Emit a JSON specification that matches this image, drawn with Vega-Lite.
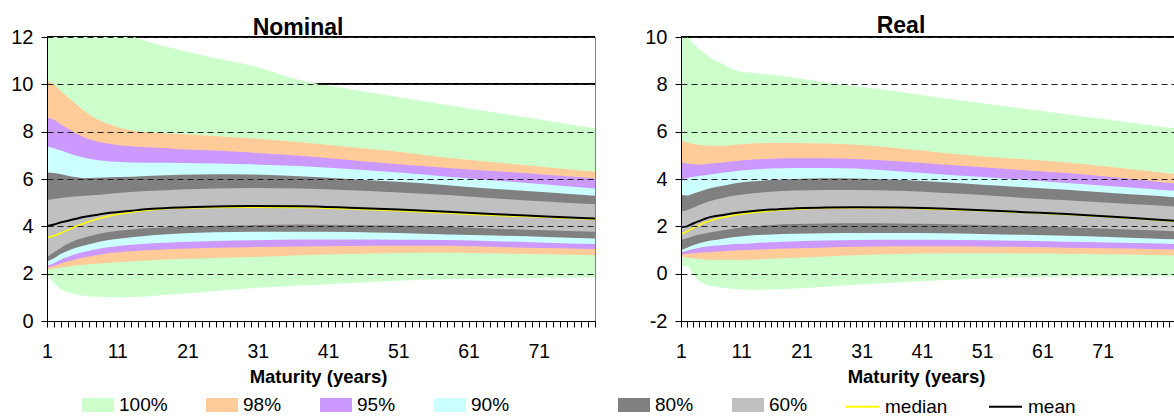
{
  "$schema": "https://vega.github.io/schema/vega-lite/v6.json",
  "padding": {"left": 0, "top": 14, "right": 0, "bottom": 0},
  "spacing": 38,
  "config": {
    "font": "Liberation Sans",
    "view": {"stroke": "#808080", "strokeWidth": 1},
    "axis": {"domainColor": "#000000", "tickColor": "#000000", "labelColor": "#000000", "titleColor": "#000000"}
  },
  "datasets": {
    "nom": [
      {"x":1,"lo100":2.0,"hi100":14.5,"lo98":2.19,"hi98":10.14,"lo95":2.25,"hi95":8.6,"lo90":2.33,"hi90":7.37,"lo80":2.5,"hi80":6.27,"lo60":2.71,"hi60":5.11,"median":3.53,"mean":4.01},
      {"x":2,"lo100":1.6,"hi100":14.2,"lo98":2.22,"hi98":10.0,"lo95":2.33,"hi95":8.5,"lo90":2.45,"hi90":7.3,"lo80":2.65,"hi80":6.25,"lo60":2.9,"hi60":5.15,"median":3.6,"mean":4.08},
      {"x":3,"lo100":1.35,"hi100":13.9,"lo98":2.26,"hi98":9.7,"lo95":2.43,"hi95":8.3,"lo90":2.6,"hi90":7.2,"lo80":2.84,"hi80":6.2,"lo60":3.1,"hi60":5.2,"median":3.72,"mean":4.17},
      {"x":4,"lo100":1.22,"hi100":13.6,"lo98":2.3,"hi98":9.45,"lo95":2.52,"hi95":8.12,"lo90":2.72,"hi90":7.1,"lo80":2.97,"hi80":6.14,"lo60":3.26,"hi60":5.23,"median":3.85,"mean":4.24},
      {"x":5,"lo100":1.14,"hi100":13.3,"lo98":2.34,"hi98":9.2,"lo95":2.6,"hi95":7.95,"lo90":2.82,"hi90":7.0,"lo80":3.08,"hi80":6.08,"lo60":3.4,"hi60":5.26,"median":3.98,"mean":4.31},
      {"x":6,"lo100":1.08,"hi100":13.1,"lo98":2.37,"hi98":8.95,"lo95":2.67,"hi95":7.8,"lo90":2.9,"hi90":6.92,"lo80":3.17,"hi80":6.04,"lo60":3.5,"hi60":5.28,"median":4.1,"mean":4.38},
      {"x":8,"lo100":1.03,"hi100":12.8,"lo98":2.42,"hi98":8.55,"lo95":2.78,"hi95":7.6,"lo90":3.03,"hi90":6.8,"lo80":3.32,"hi80":6.05,"lo60":3.66,"hi60":5.32,"median":4.3,"mean":4.48},
      {"x":10,"lo100":1.0,"hi100":12.5,"lo98":2.46,"hi98":8.3,"lo95":2.87,"hi95":7.48,"lo90":3.13,"hi90":6.74,"lo80":3.43,"hi80":6.07,"lo60":3.77,"hi60":5.38,"median":4.45,"mean":4.57},
      {"x":13,"lo100":1.01,"hi100":12.05,"lo98":2.52,"hi98":8.05,"lo95":2.95,"hi95":7.38,"lo90":3.22,"hi90":6.7,"lo80":3.54,"hi80":6.1,"lo60":3.87,"hi60":5.45,"median":4.6,"mean":4.66},
      {"x":16,"lo100":1.06,"hi100":11.75,"lo98":2.57,"hi98":7.97,"lo95":3.0,"hi95":7.33,"lo90":3.28,"hi90":6.69,"lo80":3.62,"hi80":6.14,"lo60":3.93,"hi60":5.5,"median":4.7,"mean":4.74},
      {"x":20,"lo100":1.15,"hi100":11.45,"lo98":2.62,"hi98":7.9,"lo95":3.05,"hi95":7.26,"lo90":3.34,"hi90":6.68,"lo80":3.7,"hi80":6.18,"lo60":3.98,"hi60":5.56,"median":4.77,"mean":4.8},
      {"x":25,"lo100":1.27,"hi100":11.1,"lo98":2.66,"hi98":7.82,"lo95":3.09,"hi95":7.2,"lo90":3.38,"hi90":6.66,"lo80":3.75,"hi80":6.2,"lo60":4.02,"hi60":5.6,"median":4.8,"mean":4.84},
      {"x":30,"lo100":1.38,"hi100":10.8,"lo98":2.7,"hi98":7.72,"lo95":3.12,"hi95":7.12,"lo90":3.41,"hi90":6.62,"lo80":3.77,"hi80":6.19,"lo60":4.05,"hi60":5.62,"median":4.81,"mean":4.86},
      {"x":37,"lo100":1.5,"hi100":10.18,"lo98":2.78,"hi98":7.55,"lo95":3.15,"hi95":6.98,"lo90":3.44,"hi90":6.55,"lo80":3.77,"hi80":6.12,"lo60":4.08,"hi60":5.6,"median":4.8,"mean":4.85},
      {"x":44,"lo100":1.6,"hi100":9.8,"lo98":2.83,"hi98":7.35,"lo95":3.17,"hi95":6.8,"lo90":3.44,"hi90":6.42,"lo80":3.76,"hi80":6.0,"lo60":4.06,"hi60":5.52,"median":4.74,"mean":4.79},
      {"x":51,"lo100":1.7,"hi100":9.45,"lo98":2.87,"hi98":7.15,"lo95":3.18,"hi95":6.62,"lo90":3.43,"hi90":6.27,"lo80":3.72,"hi80":5.88,"lo60":4.03,"hi60":5.43,"median":4.66,"mean":4.71},
      {"x":58,"lo100":1.76,"hi100":9.13,"lo98":2.88,"hi98":6.9,"lo95":3.18,"hi95":6.47,"lo90":3.42,"hi90":6.1,"lo80":3.66,"hi80":5.74,"lo60":3.98,"hi60":5.32,"median":4.56,"mean":4.62},
      {"x":65,"lo100":1.8,"hi100":8.8,"lo98":2.85,"hi98":6.7,"lo95":3.13,"hi95":6.33,"lo90":3.37,"hi90":5.93,"lo80":3.61,"hi80":5.58,"lo60":3.9,"hi60":5.18,"median":4.46,"mean":4.51},
      {"x":72,"lo100":1.83,"hi100":8.47,"lo98":2.82,"hi98":6.5,"lo95":3.08,"hi95":6.18,"lo90":3.31,"hi90":5.77,"lo80":3.55,"hi80":5.44,"lo60":3.83,"hi60":5.05,"median":4.38,"mean":4.42},
      {"x":79,"lo100":1.85,"hi100":8.14,"lo98":2.78,"hi98":6.31,"lo95":3.04,"hi95":6.03,"lo90":3.25,"hi90":5.6,"lo80":3.49,"hi80":5.29,"lo60":3.77,"hi60":4.93,"median":4.3,"mean":4.33}
    ],
    "real": [
      {"x":1,"lo100":0.25,"hi100":10.07,"lo98":0.72,"hi98":5.65,"lo95":0.82,"hi95":4.72,"lo90":0.9,"hi90":3.99,"lo80":0.98,"hi80":3.33,"lo60":1.43,"hi60":2.63,"median":1.68,"mean":1.96},
      {"x":2,"lo100":0.35,"hi100":10.0,"lo98":0.68,"hi98":5.55,"lo95":0.84,"hi95":4.65,"lo90":0.97,"hi90":4.03,"lo80":1.1,"hi80":3.3,"lo60":1.5,"hi60":2.68,"median":1.78,"mean":2.0},
      {"x":3,"lo100":-0.05,"hi100":9.75,"lo98":0.64,"hi98":5.48,"lo95":0.86,"hi95":4.62,"lo90":1.04,"hi90":4.08,"lo80":1.2,"hi80":3.38,"lo60":1.58,"hi60":2.78,"median":1.93,"mean":2.12},
      {"x":4,"lo100":-0.3,"hi100":9.5,"lo98":0.62,"hi98":5.45,"lo95":0.88,"hi95":4.6,"lo90":1.1,"hi90":4.13,"lo80":1.28,"hi80":3.46,"lo60":1.65,"hi60":2.9,"median":2.05,"mean":2.22},
      {"x":5,"lo100":-0.45,"hi100":9.3,"lo98":0.6,"hi98":5.42,"lo95":0.9,"hi95":4.62,"lo90":1.14,"hi90":4.16,"lo80":1.35,"hi80":3.55,"lo60":1.7,"hi60":3.0,"median":2.16,"mean":2.32},
      {"x":6,"lo100":-0.52,"hi100":9.1,"lo98":0.59,"hi98":5.4,"lo95":0.92,"hi95":4.65,"lo90":1.17,"hi90":4.2,"lo80":1.4,"hi80":3.62,"lo60":1.75,"hi60":3.08,"median":2.25,"mean":2.4},
      {"x":8,"lo100":-0.6,"hi100":8.85,"lo98":0.59,"hi98":5.4,"lo95":0.95,"hi95":4.7,"lo90":1.21,"hi90":4.26,"lo80":1.48,"hi80":3.72,"lo60":1.83,"hi60":3.2,"median":2.38,"mean":2.48},
      {"x":10,"lo100":-0.65,"hi100":8.6,"lo98":0.59,"hi98":5.45,"lo95":0.98,"hi95":4.76,"lo90":1.25,"hi90":4.33,"lo80":1.55,"hi80":3.82,"lo60":1.92,"hi60":3.3,"median":2.48,"mean":2.56},
      {"x":13,"lo100":-0.68,"hi100":8.48,"lo98":0.6,"hi98":5.5,"lo95":1.01,"hi95":4.82,"lo90":1.29,"hi90":4.4,"lo80":1.62,"hi80":3.9,"lo60":2.0,"hi60":3.4,"median":2.58,"mean":2.65},
      {"x":16,"lo100":-0.67,"hi100":8.4,"lo98":0.63,"hi98":5.52,"lo95":1.04,"hi95":4.86,"lo90":1.33,"hi90":4.44,"lo80":1.66,"hi80":3.96,"lo60":2.06,"hi60":3.46,"median":2.66,"mean":2.71},
      {"x":20,"lo100":-0.63,"hi100":8.28,"lo98":0.67,"hi98":5.52,"lo95":1.07,"hi95":4.88,"lo90":1.37,"hi90":4.47,"lo80":1.69,"hi80":4.0,"lo60":2.1,"hi60":3.51,"median":2.72,"mean":2.76},
      {"x":25,"lo100":-0.55,"hi100":8.08,"lo98":0.73,"hi98":5.5,"lo95":1.11,"hi95":4.88,"lo90":1.4,"hi90":4.47,"lo80":1.71,"hi80":4.03,"lo60":2.12,"hi60":3.54,"median":2.77,"mean":2.8},
      {"x":30,"lo100":-0.47,"hi100":7.92,"lo98":0.78,"hi98":5.45,"lo95":1.14,"hi95":4.85,"lo90":1.42,"hi90":4.44,"lo80":1.72,"hi80":4.02,"lo60":2.13,"hi60":3.54,"median":2.78,"mean":2.81},
      {"x":37,"lo100":-0.37,"hi100":7.7,"lo98":0.83,"hi98":5.3,"lo95":1.16,"hi95":4.75,"lo90":1.43,"hi90":4.33,"lo80":1.72,"hi80":3.97,"lo60":2.12,"hi60":3.5,"median":2.77,"mean":2.8},
      {"x":44,"lo100":-0.28,"hi100":7.43,"lo98":0.86,"hi98":5.12,"lo95":1.16,"hi95":4.62,"lo90":1.43,"hi90":4.2,"lo80":1.71,"hi80":3.87,"lo60":2.1,"hi60":3.42,"median":2.72,"mean":2.75},
      {"x":51,"lo100":-0.2,"hi100":7.2,"lo98":0.86,"hi98":4.95,"lo95":1.15,"hi95":4.5,"lo90":1.41,"hi90":4.08,"lo80":1.68,"hi80":3.76,"lo60":2.06,"hi60":3.32,"median":2.66,"mean":2.68},
      {"x":58,"lo100":-0.15,"hi100":6.97,"lo98":0.85,"hi98":4.83,"lo95":1.13,"hi95":4.37,"lo90":1.39,"hi90":3.96,"lo80":1.64,"hi80":3.65,"lo60":2.02,"hi60":3.2,"median":2.58,"mean":2.6},
      {"x":65,"lo100":-0.12,"hi100":6.74,"lo98":0.84,"hi98":4.7,"lo95":1.1,"hi95":4.25,"lo90":1.35,"hi90":3.83,"lo80":1.6,"hi80":3.55,"lo60":1.96,"hi60":3.1,"median":2.5,"mean":2.52},
      {"x":72,"lo100":-0.11,"hi100":6.5,"lo98":0.82,"hi98":4.52,"lo95":1.07,"hi95":4.1,"lo90":1.32,"hi90":3.7,"lo80":1.55,"hi80":3.42,"lo60":1.9,"hi60":3.0,"median":2.4,"mean":2.42},
      {"x":79,"lo100":-0.1,"hi100":6.27,"lo98":0.79,"hi98":4.32,"lo95":1.04,"hi95":3.92,"lo90":1.28,"hi90":3.58,"lo80":1.49,"hi80":3.3,"lo60":1.83,"hi60":2.9,"median":2.28,"mean":2.3},
      {"x":85,"lo100":-0.1,"hi100":6.07,"lo98":0.76,"hi98":4.15,"lo95":1.01,"hi95":3.75,"lo90":1.24,"hi90":3.45,"lo80":1.43,"hi80":3.18,"lo60":1.77,"hi60":2.8,"median":2.18,"mean":2.2}
    ]
  },
  "hconcat": [
    {
      "width": 548,
      "height": 284,
      "title": {"text": "Nominal", "fontSize": 23, "fontWeight": "bold", "anchor": "middle", "frame": "group", "baseline": "alphabetic", "offset": -30.5, "dx": -23, "color": "#000000"},
      "data": {"name": "nom"},
      "layer": [
        {"mark": {"type": "rule", "color": "#000000", "strokeWidth": 1}, "encoding": {"y": {"datum": 12}}},
        {"mark": {"type": "rule", "color": "#000000", "strokeWidth": 1}, "encoding": {"y": {"datum": 10}}},
        {
          "mark": {"type": "area", "clip": true, "interpolate": "monotone", "opacity": 1},
          "encoding": {
            "x": {"field": "x", "type": "quantitative",
              "scale": {"domain": [1, 79], "nice": false, "zero": false},
              "axis": {"values": [1,2,3,4,5,6,7,8,9,10,11,12,13,14,15,16,17,18,19,20,21,22,23,24,25,26,27,28,29,30,31,32,33,34,35,36,37,38,39,40,41,42,43,44,45,46,47,48,49,50,51,52,53,54,55,56,57,58,59,60,61,62,63,64,65,66,67,68,69,70,71,72,73,74,75,76,77,78,79],
                "tickCount": 200,
                "labelExpr": "datum.value % 10 == 1 && datum.value < 80 ? '' + datum.value : ''",
                "labelOverlap": false, "labelFlush": false, "grid": false, "tickSize": 6, "zindex": 1,
                "labelFontSize": 19.5, "labelBaseline": "alphabetic", "labelPadding": 30,
                "title": "Maturity (years)", "titleFontSize": 18.5, "titleFontWeight": "bold",
                "titleX": 271, "titleY": 61, "titleBaseline": "alphabetic"}},
            "y": {"field": "lo100", "type": "quantitative",
              "scale": {"domain": [0, 12], "nice": false, "zero": false},
              "axis": {"values": [0,2,4,6,8,10,12], "tickCount": 20, "labelExpr": "'' + datum.value", "grid": true, "gridDash": [6,4], "gridColor": "#222222", "gridWidth": 1, "zindex": 1,
                "tickSize": 6, "labelPadding": 8, "labelFontSize": 20, "title": null, "minExtent": 46, "maxExtent": 46}},
            "y2": {"field": "hi100"},
            "fill": {"datum": "100%", "scale": {"domain": ["100%","98%","95%","90%"], "range": ["#CCFFCC","#FFCC99","#CC99FF","#CCFFFF"]},
              "legend": {"orient": "none", "legendX": 35, "legendY": 352, "direction": "horizontal", "columns": 4, "title": null,
                "symbolType": "M-1,-0.4375H1V0.4375H-1Z", "symbolSize": 1024, "symbolStrokeWidth": 0, "labelFontSize": 19,
                "labelOffset": 5, "columnPadding": 38, "padding": 0, "labelColor": "#000000", "symbolOpacity": 1}}
          }
        },
        {"mark": {"type": "area", "clip": true, "interpolate": "monotone", "opacity": 1}, "encoding": {"x": {"field": "x", "type": "quantitative"}, "y": {"field": "lo98", "type": "quantitative"}, "y2": {"field": "hi98"}, "fill": {"datum": "98%"}}},
        {"mark": {"type": "area", "clip": true, "interpolate": "monotone", "opacity": 1}, "encoding": {"x": {"field": "x", "type": "quantitative"}, "y": {"field": "lo95", "type": "quantitative"}, "y2": {"field": "hi95"}, "fill": {"datum": "95%"}}},
        {"mark": {"type": "area", "clip": true, "interpolate": "monotone", "opacity": 1}, "encoding": {"x": {"field": "x", "type": "quantitative"}, "y": {"field": "lo90", "type": "quantitative"}, "y2": {"field": "hi90"}, "fill": {"datum": "90%"}}},
        {"mark": {"type": "area", "clip": true, "interpolate": "monotone", "opacity": 1}, "encoding": {"x": {"field": "x", "type": "quantitative"}, "y": {"field": "lo80", "type": "quantitative"}, "y2": {"field": "hi80"},
          "color": {"datum": "80%", "scale": {"domain": ["80%","60%"], "range": ["#808080","#C0C0C0"]},
            "legend": {"orient": "none", "legendX": 571, "legendY": 352, "direction": "horizontal", "columns": 2, "title": null,
              "symbolType": "M-1,-0.4375H1V0.4375H-1Z", "symbolSize": 1024, "symbolStrokeWidth": 0, "labelFontSize": 19,
              "labelOffset": 5, "columnPadding": 38, "padding": 0, "labelColor": "#000000", "symbolOpacity": 1}}}},
        {"mark": {"type": "area", "clip": true, "interpolate": "monotone", "opacity": 1}, "encoding": {"x": {"field": "x", "type": "quantitative"}, "y": {"field": "lo60", "type": "quantitative"}, "y2": {"field": "hi60"}, "color": {"datum": "60%"}}},
        {"mark": {"type": "line", "clip": true, "interpolate": "monotone", "strokeWidth": 1.5}, "encoding": {"x": {"field": "x", "type": "quantitative"}, "y": {"field": "median", "type": "quantitative"},
          "stroke": {"datum": "median", "scale": {"domain": ["median","mean"], "range": ["#FFFF00","#000000"]},
            "legend": {"orient": "none", "legendX": 798, "legendY": 352, "direction": "horizontal", "columns": 2, "title": null,
              "symbolType": "stroke", "symbolSize": 1089, "symbolStrokeWidth": 2, "labelFontSize": 19,
              "labelOffset": 5, "columnPadding": 37, "padding": 0, "labelColor": "#000000"}}}},
        {"mark": {"type": "line", "clip": true, "interpolate": "monotone", "strokeWidth": 2}, "encoding": {"x": {"field": "x", "type": "quantitative"}, "y": {"field": "mean", "type": "quantitative"}, "stroke": {"datum": "mean"}}}
      ]
    },
    {
      "width": 506,
      "height": 284,
      "title": {"text": "Real", "fontSize": 23, "fontWeight": "bold", "anchor": "middle", "frame": "group", "baseline": "alphabetic", "offset": -29, "dx": -33, "color": "#000000"},
      "data": {"name": "real"},
      "layer": [
        {"mark": {"type": "rule", "color": "#000000", "strokeWidth": 1}, "encoding": {"y": {"datum": 10}}},
        {
          "mark": {"type": "area", "clip": true, "interpolate": "monotone", "opacity": 1},
          "encoding": {
            "x": {"field": "x", "type": "quantitative",
              "scale": {"domain": [1, 85], "nice": false, "zero": false},
              "axis": {"values": [1,2,3,4,5,6,7,8,9,10,11,12,13,14,15,16,17,18,19,20,21,22,23,24,25,26,27,28,29,30,31,32,33,34,35,36,37,38,39,40,41,42,43,44,45,46,47,48,49,50,51,52,53,54,55,56,57,58,59,60,61,62,63,64,65,66,67,68,69,70,71,72,73,74,75,76,77,78,79,80,81,82,83,84,85],
                "tickCount": 200,
                "labelExpr": "datum.value % 10 == 1 && datum.value < 80 ? '' + datum.value : ''",
                "labelOverlap": false, "labelFlush": false, "grid": false, "tickSize": 6, "zindex": 1,
                "labelFontSize": 19.5, "labelBaseline": "alphabetic", "labelPadding": 30,
                "title": "Maturity (years)", "titleFontSize": 18.5, "titleFontWeight": "bold",
                "titleX": 235, "titleY": 61, "titleBaseline": "alphabetic"}},
            "y": {"field": "lo100", "type": "quantitative",
              "scale": {"domain": [-2, 10], "nice": false, "zero": false},
              "axis": {"values": [-2,0,2,4,6,8,10], "tickCount": 20, "labelExpr": "'' + datum.value", "grid": true, "gridDash": [6,4], "gridColor": "#222222", "gridWidth": 1, "zindex": 1,
                "tickSize": 6, "labelPadding": 8, "labelFontSize": 20, "title": null, "minExtent": 46, "maxExtent": 46}},
            "y2": {"field": "hi100"},
            "fill": {"datum": "100%"}
          }
        },
        {"mark": {"type": "area", "clip": true, "interpolate": "monotone", "opacity": 1}, "encoding": {"x": {"field": "x", "type": "quantitative"}, "y": {"field": "lo98", "type": "quantitative"}, "y2": {"field": "hi98"}, "fill": {"datum": "98%"}}},
        {"mark": {"type": "area", "clip": true, "interpolate": "monotone", "opacity": 1}, "encoding": {"x": {"field": "x", "type": "quantitative"}, "y": {"field": "lo95", "type": "quantitative"}, "y2": {"field": "hi95"}, "fill": {"datum": "95%"}}},
        {"mark": {"type": "area", "clip": true, "interpolate": "monotone", "opacity": 1}, "encoding": {"x": {"field": "x", "type": "quantitative"}, "y": {"field": "lo90", "type": "quantitative"}, "y2": {"field": "hi90"}, "fill": {"datum": "90%"}}},
        {"mark": {"type": "area", "clip": true, "interpolate": "monotone", "opacity": 1}, "encoding": {"x": {"field": "x", "type": "quantitative"}, "y": {"field": "lo80", "type": "quantitative"}, "y2": {"field": "hi80"}, "color": {"datum": "80%"}}},
        {"mark": {"type": "area", "clip": true, "interpolate": "monotone", "opacity": 1}, "encoding": {"x": {"field": "x", "type": "quantitative"}, "y": {"field": "lo60", "type": "quantitative"}, "y2": {"field": "hi60"}, "color": {"datum": "60%"}}},
        {"mark": {"type": "line", "clip": true, "interpolate": "monotone", "strokeWidth": 1.5}, "encoding": {"x": {"field": "x", "type": "quantitative"}, "y": {"field": "median", "type": "quantitative"}, "stroke": {"datum": "median"}}},
        {"mark": {"type": "line", "clip": true, "interpolate": "monotone", "strokeWidth": 2}, "encoding": {"x": {"field": "x", "type": "quantitative"}, "y": {"field": "mean", "type": "quantitative"}, "stroke": {"datum": "mean"}}}
      ]
    }
  ]
}
